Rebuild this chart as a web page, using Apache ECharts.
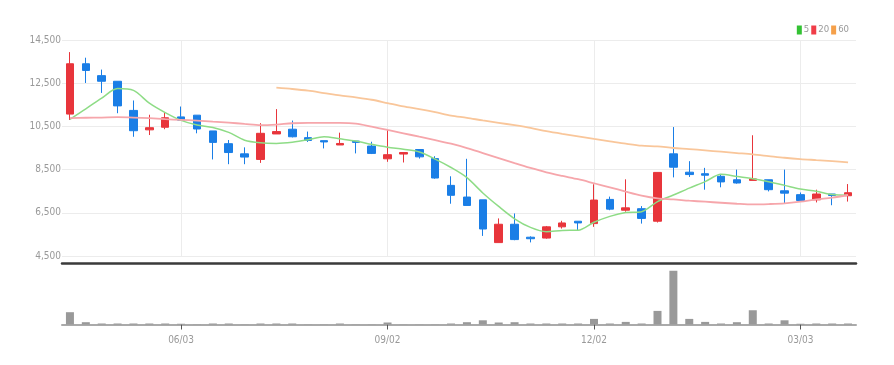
<!DOCTYPE html>
<html><head><meta charset="utf-8">
<script src="https://cdn.jsdelivr.net/npm/echarts@6/dist/echarts.min.js"></script>
<style>html,body{margin:0;padding:0;background:#fff}#c{width:894px;height:365px}</style>
</head><body><div id="c"></div>
<script>
const categories = ['04/15','04/22','04/29','05/06','05/13','05/20','05/27','06/03','06/10','06/17','06/24','07/01','07/08','07/15','07/22','07/29','08/05','08/12','08/19','08/26','09/02','09/09','09/16','09/23','09/30','10/07','10/14','10/21','10/28','11/04','11/11','11/18','11/25','12/02','12/09','12/16','12/23','12/30','01/06','01/13','01/20','01/27','02/03','02/10','02/17','02/24','03/03','03/10','03/17','03/24'];
const tickLabels = ['06/03','09/02','12/02','03/03'];
const yTicks = [4500, 6500, 8500, 10500, 12500, 14500];
const opens  = [11070,13400,12850,12590,11240,10340,10460,10940,11020,10290,9700,9230,8970,10150,10370,9980,9840,9640,9820,9590,9000,9220,9430,9010,7770,7230,7100,5120,5970,5370,5330,5850,6110,6000,7120,6620,6690,6110,9230,8380,8310,8190,8030,8000,8030,7520,7340,7100,7370,7290];
const closes = [13400,13090,12590,11450,10300,10440,10900,10790,10380,9760,9290,9080,10180,10260,10020,9850,9780,9710,9760,9250,9190,9290,9090,8110,7310,6840,5750,5970,5260,5300,5850,6030,6030,7090,6670,6730,6240,8370,8610,8270,8240,7930,7880,8070,7570,7410,7070,7370,7300,7430];
const lows   = [10800,12510,12050,11110,10020,10100,10370,10770,10180,8970,8750,8750,8810,10150,9990,9780,9480,9640,9250,9220,8860,8830,9010,8080,6920,6840,5430,5120,5230,5130,5300,5770,5690,5850,6620,6550,6000,6050,8140,8160,7570,7680,7850,8000,7490,6950,7020,6980,6850,7020];
const highs  = [13940,13680,13130,12590,11700,11040,11140,11420,11020,10290,9870,9530,10650,11300,10770,10260,9840,10210,9820,9790,10340,9290,9430,9120,8190,9000,7100,6240,6470,5410,5890,6130,6110,7820,7250,8050,6810,8370,10470,8890,8580,8300,8500,10090,8030,8500,7440,7570,7370,7830];
const ma5  = [10830,11310,11810,12250,12166,11575,11137,10777,10562,10453,10223,9860,9739,9714,9767,9878,10018,9924,9825,9669,9536,9440,9315,8986,8597,8128,7419,6795,6224,5824,5626,5683,5695,6062,6335,6512,6553,7019,7323,7642,7943,8280,8183,8074,7934,7770,7599,7496,7344,7316];
const ma20 = [10880,10900,10910,10926,10910,10879,10833,10802,10770,10724,10677,10615,10555,10584,10646,10661,10661,10661,10630,10490,10335,10180,10024,9869,9700,9499,9266,9033,8800,8578,8376,8209,8054,7868,7681,7479,7293,7168,7122,7060,7013,6966,6920,6889,6904,6935,7013,7122,7199,7324];
const ma60 = [null,null,null,null,null,null,null,null,null,null,null,null,null,12293,12231,12153,12045,11936,11843,11734,11579,11423,11299,11159,10998,10898,10774,10665,10556,10432,10276,10152,10043,9919,9810,9701,9608,9577,9499,9452,9390,9328,9266,9204,9126,9048,8986,8940,8893,8831];
const volumes = [246000,46000,20000,20000,20000,20000,20000,15000,5000,20000,20000,5000,20000,20000,20000,5000,5000,20000,5000,5000,40000,5000,5000,5000,20000,46000,84000,40000,46000,20000,20000,20000,20000,112000,20000,52000,20000,272000,1075000,112000,52000,20000,46000,285000,20000,84000,15000,20000,20000,20000];

const FONT = "'DejaVu Sans Condensed','Roboto',sans-serif";
const UP = '#e8353b', DOWN = '#1a7ee6';
const candles = categories.map((c, i) => [opens[i], closes[i], lows[i], highs[i]]);
const showTick = (i, v) => tickLabels.includes(v);

const chart = echarts.init(document.getElementById('c'), null, {renderer: 'canvas'});
chart.setOption({
  animation: false,
  backgroundColor: '#fff',
  legend: {
    right: 40, top: 20, icon: 'rect', itemWidth: 5, itemHeight: 9, itemGap: 2,
    textStyle: {fontSize: 9.5, color: '#999', fontFamily: FONT, padding: [0,0,0,-3]},
    itemStyle: {borderWidth: 0},
    data: [
      {name: '5', itemStyle: {color: '#33c233'}},
      {name: '20', itemStyle: {color: '#f03d48'}},
      {name: '60', itemStyle: {color: '#f5a04a'}}
    ]
  },
  grid: [
    {left: 62, right: 38, top: 40, height: 216},
    {left: 62, right: 38, top: 263, height: 61.5}
  ],
  xAxis: [
    {type: 'category', gridIndex: 0, data: categories, boundaryGap: true, offset: 7,
     axisLine: {show: true, lineStyle: {color: '#3a3a3a', width: 2.5}},
     axisTick: {show: false}, axisLabel: {show: false},
     splitLine: {show: true, interval: showTick, alignWithLabel: true, lineStyle: {color: '#ececec', width: 1}}},
    {type: 'category', gridIndex: 1, data: categories, boundaryGap: true,
     axisLine: {show: true, lineStyle: {color: '#aaa', width: 2}},
     axisTick: {show: true, interval: showTick, alignWithLabel: true, length: 5, lineStyle: {color: '#555'}},
     axisLabel: {interval: showTick, fontSize: 10, color: '#999', fontFamily: FONT, margin: 11},
     splitLine: {show: false}}
  ],
  yAxis: [
    {type: 'value', gridIndex: 0, min: 4500, max: 14500, interval: 2000,
     axisLine: {show: false}, axisTick: {show: false},
     axisLabel: {fontSize: 10, color: '#999', fontFamily: FONT, margin: 1,
       formatter: v => v.toLocaleString('en-US')},
     splitLine: {lineStyle: {color: '#ececec', width: 1}}},
    {type: 'value', gridIndex: 1, min: 0, max: 1230000,
     axisLine: {show: false}, axisTick: {show: false}, axisLabel: {show: false}, splitLine: {show: false}}
  ],
  series: [
    {type: 'candlestick', name: 'price', xAxisIndex: 0, yAxisIndex: 0, data: candles, barWidth: 8,
     itemStyle: {color: UP, color0: DOWN, borderColor: UP, borderColor0: DOWN, borderWidth: 1}},
    {type: 'line', name: '5', xAxisIndex: 0, yAxisIndex: 0, data: ma5, showSymbol: false, smooth: 0.3,
     itemStyle: {color: '#33c233'}, lineStyle: {color: '#8edc86', width: 1.5}},
    {type: 'line', name: '20', xAxisIndex: 0, yAxisIndex: 0, data: ma20, showSymbol: false, smooth: 0.3,
     itemStyle: {color: '#f03d48'}, lineStyle: {color: '#f6a6ab', width: 1.8}},
    {type: 'line', name: '60', xAxisIndex: 0, yAxisIndex: 0, data: ma60, showSymbol: false, smooth: 0.3,
     itemStyle: {color: '#f5a04a'}, lineStyle: {color: '#f9c69a', width: 1.8}},
    {type: 'bar', name: 'volume', xAxisIndex: 1, yAxisIndex: 1, data: volumes, barWidth: 8,
     itemStyle: {color: '#999'}}
  ]
});
</script>
</body></html>
